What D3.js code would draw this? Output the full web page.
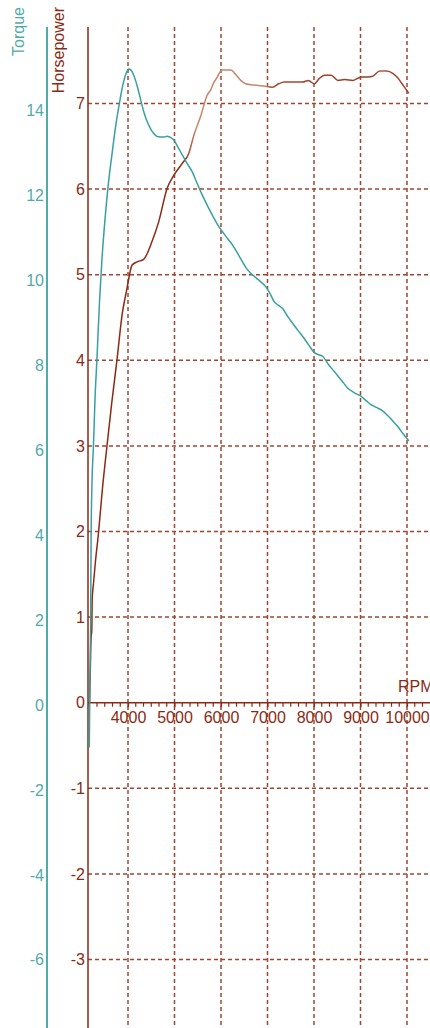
<!DOCTYPE html>
<html>
<head>
<meta charset="utf-8">
<script src="https://cdn.jsdelivr.net/npm/d3@7"></script>
<style>
  body { margin: 0; background: #fff; }
  svg { display: block; font-family: "Liberation Sans", Arial, sans-serif; }
</style>
</head>
<body>
<div id="chart"></div>
<script>
// values
const torque_rpm = [3168, 3180, 3195, 3207, 3225, 3257, 3290, 3330, 3387, 3440, 3510, 3580, 3654, 3730, 3797,
  3860, 3905, 3960, 4013, 4070, 4121, 4180, 4229, 4290, 4337, 4410, 4482, 4550, 4626, 4700, 4780, 4842, 4910,
  4985, 5070, 5166, 5270, 5382, 5490, 5598, 5710, 5814, 5920, 6030, 6140, 6246, 6350, 6462, 6550, 6641, 6800,
  6965, 7050, 7145, 7230, 7326, 7430, 7542, 7650, 7758, 7880, 8009, 8100, 8190, 8310, 8441, 8590, 8730, 8860,
  9000, 9120, 9233, 9340, 9449, 9600, 9737, 9810, 9881, 9960, 10039];
const torque_val = [-1.0, 0.5, 1.8, 4.0, 5.2, 6.1, 7.2, 8.1, 9.5, 10.5, 11.5, 12.3, 12.96, 13.6, 14.06,
  14.45, 14.68, 14.88, 14.98, 14.95, 14.84, 14.65, 14.45, 14.18, 13.98, 13.75, 13.58, 13.47, 13.39, 13.38, 13.38, 13.40, 13.37,
  13.31, 13.15, 12.96, 12.76, 12.56, 12.28, 12.01, 11.76, 11.54, 11.33, 11.15, 10.99, 10.84, 10.65, 10.44, 10.28, 10.17, 10.02,
  9.85, 9.70, 9.50, 9.42, 9.34, 9.16, 8.99, 8.83, 8.68, 8.49, 8.30, 8.25, 8.21, 8.02, 7.85, 7.65, 7.46, 7.36,
  7.28, 7.17, 7.07, 7.01, 6.95, 6.80, 6.64, 6.55, 6.44, 6.33, 6.22];

const hp_rpm = [3172, 3190, 3205, 3222, 3229, 3257, 3300, 3365, 3450, 3546, 3650, 3762, 3883, 3927, 3978,
  4086, 4194, 4337, 4518, 4661, 4842, 4985, 5166, 5309, 5417, 5562, 5706, 5778, 5850, 5922, 5958, 6030, 6210,
  6330, 6425, 6530, 6641, 6965, 7110, 7240, 7361, 7758, 7879, 7940, 8009, 8110, 8225, 8369, 8514, 8657, 8838,
  9017, 9162, 9270, 9413, 9557, 9702, 9800, 9881, 9960, 10039];
const hp_val = [0.0, 0.4, 0.75, 0.85, 1.2, 1.39, 1.65, 1.98, 2.5, 2.99, 3.5, 4.0, 4.57, 4.70, 4.84,
  5.11, 5.15, 5.18, 5.39, 5.62, 6.01, 6.16, 6.30, 6.42, 6.63, 6.85, 7.10, 7.16, 7.25, 7.31, 7.35, 7.39, 7.39,
  7.33, 7.27, 7.23, 7.22, 7.20, 7.19, 7.23, 7.25, 7.25, 7.27, 7.25, 7.23, 7.29, 7.33, 7.33, 7.27, 7.28, 7.27,
  7.31, 7.31, 7.32, 7.38, 7.38, 7.35, 7.30, 7.24, 7.18, 7.12];

const rpm_ticks = [4000, 5000, 6000, 7000, 8000, 9000, 10000];
const torque_ticks = [14, 12, 10, 8, 6, 4, 2, 0, -2, -4, -6];
const hp_ticks = [7, 6, 5, 4, 3, 2, 1, 0, -1, -2, -3];

const width = 430, height = 1028;
const top_y = 27;
const torque_axis_x = 47, hp_axis_x = 88;

const teal = "#38a0a0", teal_light = "#52abab";
const brown = "#8b2a14", grid_col = "#a04630";

const svg = d3.select("#chart")
  .append("svg")
  .attr("width", width)
  .attr("height", height);

// scales
const x = d3.scaleLinear().domain([4000, 10000]).range([128, 407]);
const y_hp = d3.scaleLinear().domain([0, 7]).range([702.7, 103.5]);
const y_tq = d3.scaleLinear().domain([0, 14]).range([705, 110.7]);

// dashed grid
svg.append("g")
  .selectAll("line")
  .data(rpm_ticks)
  .join("line")
  .attr("x1", d => x(d)).attr("x2", d => x(d))
  .attr("y1", top_y).attr("y2", height)
  .attr("stroke", grid_col)
  .attr("stroke-width", 1.5)
  .attr("stroke-dasharray", "4,3");

svg.append("g")
  .selectAll("line")
  .data(hp_ticks.filter(d => d != 0))
  .join("line")
  .attr("x1", hp_axis_x).attr("x2", width)
  .attr("y1", d => y_hp(d)).attr("y2", d => y_hp(d))
  .attr("stroke", grid_col)
  .attr("stroke-width", 1.5)
  .attr("stroke-dasharray", "4,3");

// x axis with minor ticks every 1000/6 rpm
const x_axis = d3.axisBottom(x)
  .tickValues(rpm_ticks)
  .tickSize(4)
  .tickPadding(5)
  .tickFormat(d3.format("d"));

const minor = d3.range(0, 48).map(i => 3000 + i * 1000 / 6)
  .filter(d => x(d) > hp_axis_x + 1 && x(d) < width);

const xg = svg.append("g")
  .attr("transform", `translate(0,${y_hp(0)})`);
xg.append("line")
  .attr("x1", hp_axis_x).attr("x2", width)
  .attr("stroke", brown).attr("stroke-width", 1.5);
xg.selectAll(".minor")
  .data(minor)
  .join("line")
  .attr("class", "minor")
  .attr("x1", d => x(d)).attr("x2", d => x(d))
  .attr("y1", 0).attr("y2", 4)
  .attr("stroke", brown).attr("stroke-width", 1.2);
const xa = xg.append("g").call(x_axis);
xa.select(".domain").remove();
xa.selectAll("line").attr("stroke", brown).attr("stroke-width", 1.2);
xa.selectAll("text")
  .attr("fill", brown)
  .style("font-size", "16px");

svg.append("text")
  .attr("x", 398).attr("y", 692)
  .attr("fill", brown)
  .style("font-size", "16px")
  .text("RPM");

// torque axis
svg.append("line")
  .attr("x1", torque_axis_x).attr("x2", torque_axis_x)
  .attr("y1", top_y).attr("y2", height)
  .attr("stroke", teal_light).attr("stroke-width", 2);
svg.append("g")
  .selectAll("text")
  .data(torque_ticks)
  .join("text")
  .attr("x", torque_axis_x - 3)
  .attr("y", d => y_tq(d))
  .attr("dy", "0.36em")
  .attr("text-anchor", "end")
  .attr("fill", teal_light)
  .style("font-size", "16px")
  .text(d => d);
svg.append("text")
  .attr("transform", `translate(24,7) rotate(-90)`)
  .attr("text-anchor", "end")
  .attr("fill", teal_light)
  .style("font-size", "16px")
  .text("Torque");

// horsepower axis
svg.append("line")
  .attr("x1", hp_axis_x).attr("x2", hp_axis_x)
  .attr("y1", top_y).attr("y2", height)
  .attr("stroke", brown).attr("stroke-width", 1.5);
svg.append("g")
  .selectAll("text")
  .data(hp_ticks)
  .join("text")
  .attr("x", hp_axis_x - 3)
  .attr("y", d => y_hp(d))
  .attr("dy", "0.36em")
  .attr("text-anchor", "end")
  .attr("fill", brown)
  .style("font-size", "16px")
  .text(d => d);
svg.append("text")
  .attr("transform", `translate(64,7) rotate(-90)`)
  .attr("text-anchor", "end")
  .attr("fill", brown)
  .style("font-size", "16px")
  .text("Horsepower");

// horsepower line shade shifts along the rpm range
const hp_shade_rpm = [3100, 5200, 5450, 6900, 7150, 9250, 9450, 9700, 10100];
const hp_shade_col = [brown, brown, "#c4876a", "#c4876a", "#a5492f", "#9a3b24", "#ad6147", "#a0412a", "#a0412a"];
const x0 = x(3100), x1 = x(10100);
const grad = svg.append("defs").append("linearGradient")
  .attr("id", "hpGrad")
  .attr("gradientUnits", "userSpaceOnUse")
  .attr("x1", x0).attr("x2", x1).attr("y1", 0).attr("y2", 0);
grad.selectAll("stop")
  .data(hp_shade_rpm)
  .join("stop")
  .attr("offset", d => (x(d) - x0) / (x1 - x0))
  .attr("stop-color", (d, i) => hp_shade_col[i]);

const hp_data = hp_rpm.map((r, i) => ({ rpm: r, v: hp_val[i] }));
const tq_data = torque_rpm.map((r, i) => ({ rpm: r, v: torque_val[i] }));

svg.append("path")
  .datum(hp_data)
  .attr("fill", "none")
  .attr("stroke", "url(#hpGrad)")
  .attr("stroke-width", 1.5)
  .attr("d", d3.line()
    .x(d => x(d.rpm))
    .y(d => y_hp(d.v))
    .curve(d3.curveMonotoneX));

svg.append("path")
  .datum(tq_data)
  .attr("fill", "none")
  .attr("stroke", teal)
  .attr("stroke-width", 1.5)
  .attr("d", d3.line()
    .x(d => x(d.rpm))
    .y(d => y_tq(d.v))
    .curve(d3.curveMonotoneX));
</script>
</body>
</html>
